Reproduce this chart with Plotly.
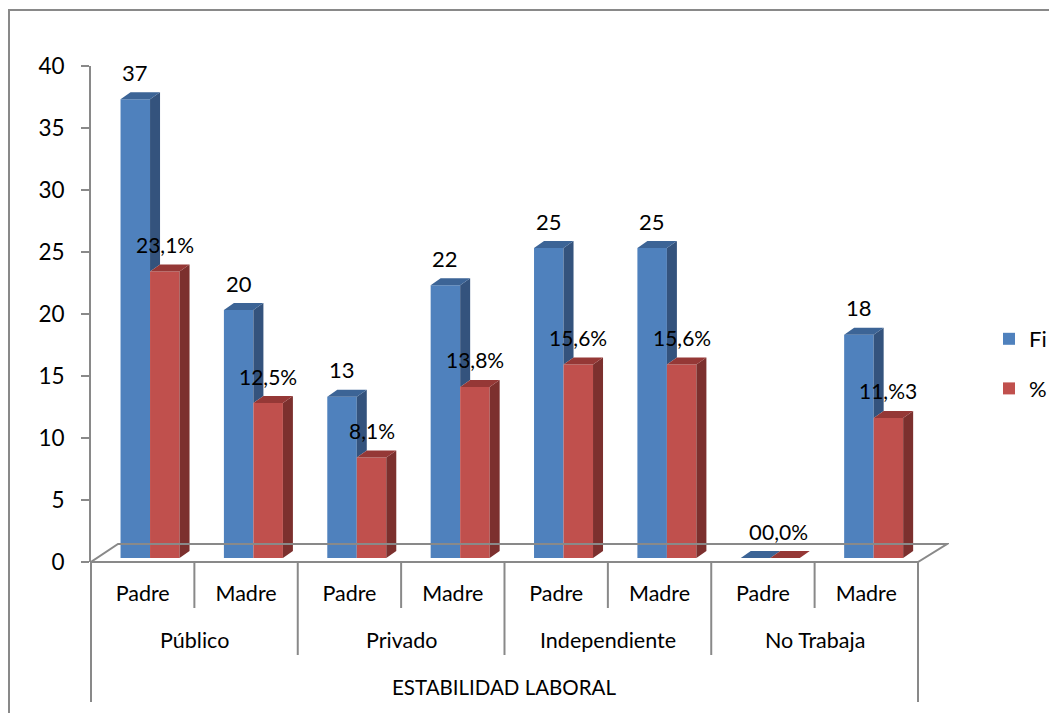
import plotly.graph_objects as go

# data
groups = ["Público", "Privado", "Independiente", "No Trabaja"]
parents = ["Padre", "Madre", "Padre", "Madre", "Padre", "Madre", "Padre", "Madre"]
axis_title = "ESTABILIDAD LABORAL"
fi_values = [37, 20, 13, 22, 25, 25, 0, 18]
pct_values = [23.1, 12.5, 8.1, 13.8, 15.6, 15.6, 0.0, 11.3]
fi_labels = ["37", "20", "13", "22", "25", "25", "0", "18"]
pct_labels = ["23,1%", "12,5%", "8,1%", "13,8%", "15,6%", "15,6%", "0,0%", "11,%3"]
y_ticks = [0, 5, 10, 15, 20, 25, 30, 35, 40]

FONT = "Lato"
GRAY = "#898989"
BLUE, BLUE_SIDE, BLUE_TOP = "#4F81BD", "#34537D", "#3C6496"
RED, RED_SIDE, RED_TOP = "#C0504D", "#7C302E", "#953836"

# the page body has an 8px margin, so the figure is a bit smaller
FIG_W, FIG_H = 1049, 705
L, R, T, B = 83, 108, 58, 151
W_PX, H_PX = FIG_W - L - R, FIG_H - T - B
X_RANGE = [-0.5, 7.8]
Y_RANGE = [0, 40]
ux = W_PX / (X_RANGE[1] - X_RANGE[0])   # px per category
uy = H_PX / (Y_RANGE[1] - Y_RANGE[0])   # px per value unit

BAR_W = 29.5 / ux
OFF_BLUE = -7.4 / ux
OFF_RED = OFF_BLUE + BAR_W
DX, DY = 10 / ux, 7 / uy        # 3d depth of the bars
BASE = 4 / uy                   # bars stand slightly behind the front edge

n = len(parents)
xs = list(range(n))


def py(p):
    # pixel offset below the axis -> paper fraction
    return -p / H_PX


def faces(xc, bottoms, tops):
    side_x, side_y, top_x, top_y = [], [], [], []
    for x, b, t in zip(xc, bottoms, tops):
        xl, xr = x - BAR_W / 2, x + BAR_W / 2
        side_x += [xr, xr + DX, xr + DX, xr, xr, None]
        side_y += [b, b + DY, t + DY, t, b, None]
        top_x += [xl, xl + DX, xr + DX, xr, xl, None]
        top_y += [t, t + DY, t + DY, t, t, None]
    return side_x, side_y, top_x, top_y


fig = go.Figure()

bx = [x + OFF_BLUE for x in xs]
rx = [x + OFF_RED for x in xs]

fig.add_trace(go.Bar(x=bx, y=fi_values, base=BASE, width=BAR_W, name="Fi",
                     marker=dict(color=BLUE, line=dict(width=0)), legendgroup="fi"))
fig.add_trace(go.Bar(x=rx, y=pct_values, base=BASE, width=BAR_W, name="%",
                     marker=dict(color=RED, line=dict(width=0)), legendgroup="pct"))

blue_tops = [BASE + v for v in fi_values]
red_tops = [BASE + v for v in pct_values]

# blue side only shows above the red bar in front of it
sx, sy, tx, ty = faces(bx, red_tops, blue_tops)
fig.add_trace(go.Scatter(x=sx, y=sy, fill="toself", fillcolor=BLUE_SIDE, mode="none",
                         showlegend=False, hoverinfo="skip"))
fig.add_trace(go.Scatter(x=tx, y=ty, fill="toself", fillcolor=BLUE_TOP, mode="none",
                         showlegend=False, hoverinfo="skip"))
sx, sy, tx, ty = faces(rx, [BASE] * n, red_tops)
fig.add_trace(go.Scatter(x=sx, y=sy, fill="toself", fillcolor=RED_SIDE, mode="none",
                         showlegend=False, hoverinfo="skip"))
fig.add_trace(go.Scatter(x=tx, y=ty, fill="toself", fillcolor=RED_TOP, mode="none",
                         showlegend=False, hoverinfo="skip"))

annotations = []
for x, t, lab in zip(bx, blue_tops, fi_labels):
    annotations.append(dict(x=x, y=t, text=lab, showarrow=False, yanchor="middle",
                            yshift=27, font=dict(size=22)))
for x, t, lab in zip(rx, red_tops, pct_labels):
    annotations.append(dict(x=x, y=t, text=lab, showarrow=False, yanchor="middle",
                            yshift=27, font=dict(size=21)))
for k, g in enumerate(groups):
    annotations.append(dict(x=2 * k + 0.5, y=py(78), xref="x", yref="paper", text=g,
                            showarrow=False, yanchor="middle", font=dict(size=21.5)))
annotations.append(dict(x=(xs[0] + xs[-1]) / 2, y=py(125), xref="x", yref="paper",
                        text=axis_title, showarrow=False, yanchor="middle",
                        font=dict(size=20.5)))

line = dict(color=GRAY, width=2)
shapes = []
# floor of the 3d plot
fy = 18 / H_PX
fx0, fx1 = -0.5 + 27 / ux, n - 0.5 + 29 / ux
shapes.append(dict(type="path", xref="x", yref="paper", line=line,
                   path=f"M -0.5,0 L {n - 0.5},0 L {fx1},{fy} L {fx0},{fy} Z"))
# category dividers
for b in range(1, n):
    depth = 93 if b % 2 == 0 else 46
    shapes.append(dict(type="line", xref="x", yref="paper", x0=b - 0.5, x1=b - 0.5,
                       y0=0, y1=py(depth), line=line))
shapes.append(dict(type="line", xref="paper", yref="paper", x0=0, x1=0,
                   y0=0, y1=py(140), line=line))
shapes.append(dict(type="line", xref="x", yref="paper", x0=n - 0.5, x1=n - 0.5,
                   y0=0, y1=py(140), line=line))
# outer chart border
shapes.append(dict(type="rect", xref="paper", yref="paper",
                   x0=(1 - L) / W_PX, x1=(FIG_W + 20 - L) / W_PX,
                   y0=py(B + 20), y1=1 + (T - 2) / H_PX,
                   line=dict(color=GRAY, width=2)))

fig.update_layout(
    width=FIG_W, height=FIG_H,
    margin=dict(l=L, r=R, t=T, b=B),
    paper_bgcolor="white", plot_bgcolor="white",
    font=dict(family=FONT, size=20, color="black"),
    barmode="overlay",
    showlegend=True,
    legend=dict(xref="container", yref="container", x=981 / FIG_W, y=1 - 356 / FIG_H,
                xanchor="left", yanchor="middle", traceorder="grouped",
                tracegroupgap=18, font=dict(size=22), bgcolor="rgba(0,0,0,0)"),
    xaxis=dict(range=X_RANGE, tickvals=xs, ticktext=parents, ticks="",
               showgrid=False, zeroline=False, showline=False,
               tickfont=dict(size=21.5), ticklabelstandoff=16),
    yaxis=dict(range=Y_RANGE, tickvals=y_ticks, showgrid=False, zeroline=False,
               showline=True, linecolor=GRAY, linewidth=2, ticks="outside",
               ticklen=8, tickwidth=1.5, tickcolor=GRAY, ticklabelstandoff=12,
               tickfont=dict(size=22.5)),
    annotations=annotations,
    shapes=shapes,
)

fig.write_html("out.html")
